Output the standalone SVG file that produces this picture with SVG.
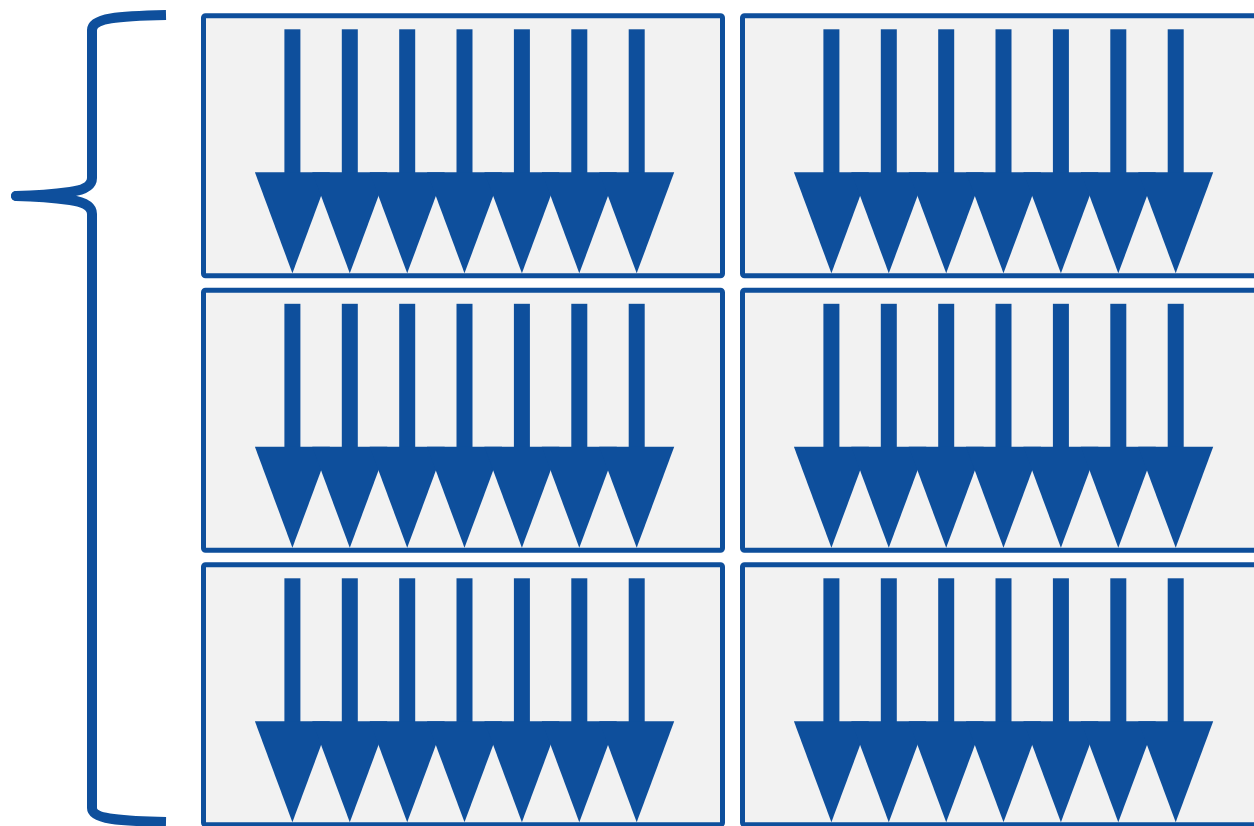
<svg xmlns="http://www.w3.org/2000/svg" xmlns:xlink="http://www.w3.org/1999/xlink" width="1254" height="826" viewBox="0 0 1254 826">
  <style>
    .panel { fill: #F2F2F2; stroke: #0E4F9C; stroke-width: 5; }
    .arrow { fill: #0E4F9C; }
    .brace { fill: none; stroke: #0E4F9C; stroke-width: 10; stroke-linejoin: round; stroke-linecap: butt; }
  </style>
  <defs>
    <g id="arrowset">
      <g class="arrow">
        <rect x="80.9" y="13.5" width="16" height="144"/><polygon points="51.4,156.5 126.4,156.5 88.9,257.5"/>
        <rect x="138.3" y="13.5" width="16" height="144"/><polygon points="108.8,156.5 183.8,156.5 146.3,257.5"/>
        <rect x="195.7" y="13.5" width="16" height="144"/><polygon points="166.2,156.5 241.2,156.5 203.7,257.5"/>
        <rect x="253.0" y="13.5" width="16" height="144"/><polygon points="223.5,156.5 298.5,156.5 261.0,257.5"/>
        <rect x="310.4" y="13.5" width="16" height="144"/><polygon points="280.9,156.5 355.9,156.5 318.4,257.5"/>
        <rect x="367.8" y="13.5" width="16" height="144"/><polygon points="338.3,156.5 413.3,156.5 375.8,257.5"/>
        <rect x="425.2" y="13.5" width="16" height="144"/><polygon points="395.7,156.5 470.7,156.5 433.2,257.5"/>
      </g>
    </g>
  </defs>
  <rect width="1254" height="826" fill="#FFFFFF"/>
  <g id="brace">
    <path class="brace" d="M166,15 C118,16 92,18 92,30 L92,178 Q92,189 70,192 Q45,195.5 16,196 Q45,196.5 70,200 Q92,203 92,214 L92,808 C92,819 118,821 166,822"/>
    <circle cx="16" cy="196" r="5" fill="#0E4F9C"/>
  </g>
  <g id="panel-r1c1" transform="translate(203.5,15.8)">
    <rect class="panel" x="0" y="0" width="519" height="260" rx="2"/>
    <use xlink:href="#arrowset"/>
  </g>
  <g id="panel-r1c2" transform="translate(742.5,15.8)">
    <rect class="panel" x="0" y="0" width="519" height="260" rx="2"/>
    <use xlink:href="#arrowset"/>
  </g>
  <g id="panel-r2c1" transform="translate(203.5,290.3)">
    <rect class="panel" x="0" y="0" width="519" height="260" rx="2"/>
    <use xlink:href="#arrowset"/>
  </g>
  <g id="panel-r2c2" transform="translate(742.5,290.3)">
    <rect class="panel" x="0" y="0" width="519" height="260" rx="2"/>
    <use xlink:href="#arrowset"/>
  </g>
  <g id="panel-r3c1" transform="translate(203.5,564.8)">
    <rect class="panel" x="0" y="0" width="519" height="260" rx="2"/>
    <use xlink:href="#arrowset"/>
  </g>
  <g id="panel-r3c2" transform="translate(742.5,564.8)">
    <rect class="panel" x="0" y="0" width="519" height="260" rx="2"/>
    <use xlink:href="#arrowset"/>
  </g>
  <g id="connectors"/>
</svg>
